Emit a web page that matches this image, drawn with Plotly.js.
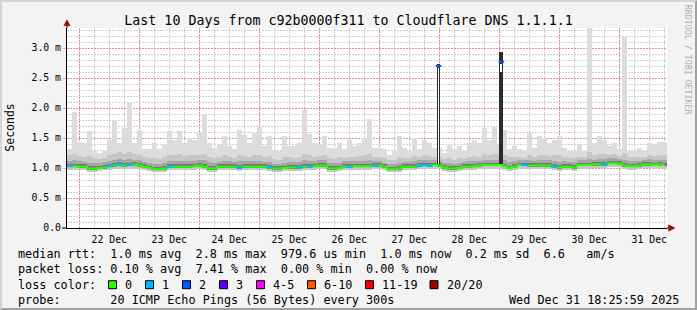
<!DOCTYPE html>
<html><head><meta charset="utf-8">
<script src="https://cdn.plot.ly/plotly-3.0.1.min.js"></script>
<style>
html,body{margin:0;padding:0;background:#f3f3f3;}
#frame{position:absolute;left:0;top:0;width:697px;height:310px;box-sizing:border-box;border-style:solid;border-width:2px;border-color:#d4d4d4 #a0a0a0 #a0a0a0 #d4d4d4;background:#f3f3f3;}
#chart{position:absolute;left:0;top:0;width:697px;height:310px;}
</style></head><body>
<div id="frame"></div><div id="chart"></div>
<script>
// ---- data (RTT in milliseconds; 2-hour bins starting 2025-12-21 19:05) ----
const START = Date.UTC(2025, 11, 21, 19, 5);
const HOUR = 3600000;
const BIN_H = 2;
const NBINS_DAYS = 10;

const medianRtt = [1.03,1.03,1.02,1.02,0.99,0.99,1.00,1.01,1.03,1.04,
 1.06,1.04,1.05,1.06,1.04,1.02,1.00,0.98,0.98,0.99,
 1.02,1.02,1.02,1.02,1.02,1.03,1.04,1.02,0.99,0.99,
 1.02,1.02,1.02,1.02,1.01,1.02,1.02,1.02,1.02,1.02,
 1.01,0.99,0.99,1.00,1.01,1.01,1.01,1.02,1.02,1.03,
 1.04,1.04,0.99,0.99,1.00,1.02,1.02,1.03,1.03,1.03,
 1.03,1.04,1.04,1.02,0.98,0.98,0.99,1.02,1.02,1.02,
 1.04,1.05,1.04,1.05,1.04,1.01,0.99,0.99,1.00,1.02,
 1.02,1.03,1.04,1.05,1.05,1.05,1.05,1.03,1.00,1.02,
 1.05,1.05,1.04,1.04,1.04,1.04,1.04,1.02,1.01,1.02,
 1.02,1.01,1.05,1.05,1.05,1.06,1.06,1.06,1.08,1.08,
 1.07,1.04,1.03,1.03,1.04,1.06,1.06,1.05,1.06,1.05];

const maxRtt = [1.32,1.94,1.44,1.42,1.61,1.28,1.25,1.28,1.47,1.78,
 1.42,1.67,2.09,1.42,1.64,1.31,1.31,1.42,1.31,1.39,
 1.61,1.47,1.61,1.42,1.50,1.47,1.58,1.89,1.42,1.33,
 1.39,1.53,1.36,1.31,1.64,1.55,1.42,1.58,1.69,1.36,
 1.53,1.28,1.28,1.53,1.36,1.36,1.42,1.97,1.56,1.42,
 1.39,1.53,1.33,1.33,1.42,1.31,1.47,1.36,1.42,1.50,
 1.81,1.33,1.33,1.31,1.22,1.28,1.53,1.33,1.28,1.50,
 1.31,1.47,1.42,1.33,1.33,1.25,1.39,1.31,1.36,1.28,
 1.42,1.47,1.42,1.67,1.47,1.69,1.40,1.64,1.31,1.36,
 1.31,1.28,1.58,1.33,1.53,1.50,1.42,1.47,1.53,1.33,
 1.28,1.28,1.39,1.28,3.40,1.42,1.53,1.47,1.36,1.42,
 1.31,3.18,1.28,1.28,1.33,1.28,1.42,1.39,1.44,1.44];

const p90Rtt = [1.22,1.24,1.20,1.18,1.20,1.16,1.15,1.17,1.21,1.24,
 1.26,1.24,1.27,1.23,1.22,1.18,1.16,1.17,1.15,1.18,
 1.22,1.21,1.23,1.20,1.22,1.21,1.22,1.24,1.19,1.16,
 1.18,1.21,1.19,1.17,1.22,1.20,1.19,1.21,1.22,1.18,
 1.20,1.15,1.14,1.19,1.18,1.17,1.19,1.24,1.21,1.19,
 1.20,1.22,1.16,1.15,1.18,1.17,1.19,1.18,1.20,1.21,
 1.23,1.19,1.18,1.16,1.13,1.14,1.19,1.17,1.16,1.20,
 1.19,1.21,1.20,1.19,1.18,1.15,1.17,1.14,1.16,1.15,
 1.18,1.20,1.19,1.23,1.21,1.24,1.22,1.22,1.18,1.19,
 1.18,1.17,1.22,1.19,1.21,1.21,1.20,1.21,1.22,1.18,
 1.16,1.17,1.19,1.18,1.26,1.22,1.23,1.24,1.22,1.23,
 1.20,1.25,1.19,1.18,1.19,1.18,1.21,1.20,1.21,1.22];

const p75Rtt = [1.12,1.13,1.11,1.10,1.09,1.08,1.08,1.10,1.12,1.14,
 1.15,1.14,1.15,1.14,1.13,1.10,1.08,1.07,1.07,1.08,
 1.12,1.11,1.11,1.11,1.12,1.12,1.13,1.13,1.10,1.08,
 1.10,1.11,1.11,1.10,1.12,1.11,1.11,1.11,1.12,1.10,
 1.10,1.07,1.07,1.09,1.10,1.10,1.10,1.13,1.12,1.12,
 1.13,1.13,1.08,1.08,1.09,1.11,1.11,1.12,1.12,1.12,
 1.13,1.12,1.11,1.09,1.06,1.06,1.08,1.10,1.10,1.11,
 1.13,1.14,1.13,1.13,1.12,1.09,1.08,1.07,1.08,1.10,
 1.11,1.12,1.12,1.14,1.14,1.14,1.14,1.13,1.10,1.11,
 1.13,1.13,1.13,1.12,1.13,1.13,1.13,1.11,1.10,1.11,
 1.10,1.10,1.13,1.13,1.15,1.14,1.15,1.15,1.16,1.16,
 1.15,1.14,1.12,1.11,1.12,1.14,1.15,1.14,1.14,1.14];

const p60Rtt = [1.07,1.07,1.06,1.06,1.03,1.03,1.04,1.05,1.07,1.08,
 1.10,1.08,1.09,1.10,1.08,1.06,1.04,1.02,1.02,1.03,
 1.06,1.06,1.06,1.06,1.06,1.07,1.08,1.06,1.03,1.03,
 1.06,1.06,1.06,1.06,1.05,1.06,1.06,1.06,1.06,1.06,
 1.05,1.03,1.03,1.04,1.05,1.05,1.05,1.06,1.06,1.07,
 1.08,1.08,1.03,1.03,1.04,1.06,1.06,1.07,1.07,1.07,
 1.07,1.08,1.08,1.06,1.02,1.02,1.03,1.06,1.06,1.06,
 1.08,1.09,1.08,1.09,1.08,1.05,1.03,1.03,1.04,1.06,
 1.06,1.07,1.08,1.09,1.09,1.09,1.09,1.07,1.04,1.06,
 1.09,1.09,1.08,1.08,1.08,1.08,1.08,1.06,1.05,1.06,
 1.06,1.05,1.09,1.09,1.09,1.10,1.10,1.10,1.12,1.12,
 1.11,1.08,1.07,1.07,1.08,1.10,1.10,1.09,1.10,1.09];

const lowRtt = [1.01,1.01,1.00,1.00,0.97,0.97,0.98,0.99,1.01,1.02,
 1.04,1.02,1.03,1.04,1.02,1.00,0.98,0.96,0.96,0.97,
 1.00,1.00,1.00,1.00,1.00,1.01,1.02,1.00,0.97,0.97,
 1.00,1.00,1.00,1.00,0.99,1.00,1.00,1.00,1.00,1.00,
 0.99,0.97,0.97,0.98,0.99,0.99,0.99,1.00,1.00,1.01,
 1.02,1.02,0.97,0.97,0.98,1.00,1.00,1.01,1.01,1.01,
 1.01,1.02,1.02,1.00,0.96,0.96,0.97,1.00,1.00,1.00,
 1.02,1.03,1.02,1.03,1.02,0.99,0.97,0.97,0.98,1.00,
 1.00,1.01,1.02,1.03,1.03,1.03,1.03,1.01,0.98,1.00,
 1.03,1.03,1.02,1.02,1.02,1.02,1.02,1.00,0.99,1.00,
 1.00,0.99,1.03,1.03,1.03,1.04,1.04,1.04,1.06,1.06,
 1.05,1.02,1.01,1.01,1.02,1.04,1.04,1.03,1.04,1.03];

const minRtt = [0.97,0.97,0.96,0.96,0.94,0.94,0.95,0.96,0.97,0.98,
 0.99,0.98,0.98,0.99,0.98,0.96,0.95,0.93,0.93,0.94,
 0.96,0.96,0.96,0.96,0.96,0.97,0.98,0.96,0.94,0.94,
 0.96,0.96,0.96,0.96,0.95,0.96,0.96,0.96,0.96,0.96,
 0.95,0.94,0.94,0.95,0.95,0.95,0.95,0.96,0.96,0.97,
 0.98,0.98,0.94,0.94,0.95,0.96,0.96,0.97,0.97,0.97,
 0.97,0.98,0.98,0.96,0.93,0.93,0.94,0.96,0.96,0.96,
 0.98,0.99,0.98,0.99,0.98,0.95,0.94,0.94,0.95,0.96,
 0.96,0.97,0.98,0.99,0.99,0.99,0.99,0.97,0.95,0.96,
 0.99,0.99,0.98,0.98,0.98,0.98,0.98,0.96,0.95,0.96,
 0.96,0.95,0.99,0.99,0.99,1.00,1.00,1.00,1.02,1.02,
 1.01,0.98,0.97,0.97,0.98,1.00,1.00,0.99,1.00,0.99];

const lossCount = [1,0,0,0,0,0,0,0,1,0,
 1,0,1,0,0,0,0,0,0,0,
 1,0,0,0,0,0,0,0,0,0,
 0,0,0,0,1,0,0,0,0,0,
 1,0,0,0,0,0,1,0,1,0,
 0,0,0,0,0,0,1,0,0,0,
 0,1,0,0,0,0,0,0,0,0,
 1,1,1,0,0,0,0,0,0,0,
 0,0,0,0,0,0,0,0,0,0,
 0,1,0,0,0,0,0,1,0,0,
 0,0,0,0,0,0,0,1,0,0,
 0,0,0,0,0,0,0,0,0,0];

// two short outliers where the whole ping burst was slow
const spikeTimes  = ['2025-12-27 23:40', '2025-12-29 00:50'];
const spikeBase   = [1.05, 1.05];
const spikeTop    = [2.74, 2.94];
const spikeMedian = [2.70, 2.77];
const spikeGapLo  = [1.07, 2.60];
const spikeGapHi  = [2.67, 2.74];
const spikeLoss   = [2, 2];

const yTickVals = [0, 0.5, 1.0, 1.5, 2.0, 2.5, 3.0];
const yTickText = ['0.0', '0.5 m', '1.0 m', '1.5 m', '2.0 m', '2.5 m', '3.0 m'];

const lossLabels = ['0', '1', '2', '3', '4-5', '6-10', '11-19', '20/20'];
const lossColors = ['#26ff00', '#00b8ff', '#0059ff', '#5e00ff', '#ff00ff', '#ff5500', '#ff0000', '#a00000'];

const statsLine1 = 'median rtt:  1.0 ms avg  2.8 ms max  979.6 us min  1.0 ms now  0.2 ms sd  6.6   am/s';
const statsLine2 = 'packet loss: 0.10 % avg  7.41 % max  0.00 % min  0.00 % now';
const probeText  = 'probe:       20 ICMP Echo Pings (56 Bytes) every 300s';
const stampText  = 'Wed Dec 31 18:25:59 2025';
const titleText  = 'Last 10 Days from c92b0000f311 to Cloudflare DNS 1.1.1.1';

// ---- build ----
const END = START + NBINS_DAYS * 24 * HOUR;
const times = medianRtt.map((_, i) => START + (i * BIN_H + BIN_H / 2) * HOUR);
function lossIdx(n){ if(n<=0)return 0; if(n===1)return 1; if(n===2)return 2; if(n===3)return 3; if(n<=5)return 4; if(n<=10)return 5; if(n<=19)return 6; return 7; }

function band(lo, hi, color){
  return {type:'bar', x:times, base:lo, y:hi.map((v,i)=>v-lo[i]), width:BIN_H*HOUR,
    marker:{color:color, line:{width:0}}, hoverinfo:'skip', showlegend:false};
}
const traces = [
  band(minRtt, maxRtt, '#dcdcdc'),
  band(minRtt, p90Rtt, '#c6c6c6'),
  band(lowRtt, p75Rtt, '#a6a6a6'),
  band(lowRtt, p60Rtt, '#787878'),
  {type:'bar', x:spikeTimes, base:spikeBase, y:spikeTop.map((v,i)=>v-spikeBase[i]), width:[1.3*HOUR, 1.55*HOUR],
    marker:{color:'#2b2b2b', line:{width:0}}, hoverinfo:'skip', showlegend:false},
  {type:'bar', x:spikeTimes, base:spikeGapLo, y:spikeGapHi.map((v,i)=>v-spikeGapLo[i]), width:[0.45*HOUR, 0.8*HOUR],
    marker:{color:'#ffffff', line:{width:0}}, hoverinfo:'skip', showlegend:false},
  {type:'scatter', mode:'lines', x:times, y:medianRtt, line:{color:lossColors[0], width:2, shape:'hvh'},
    hoverinfo:'skip', showlegend:false},
];
const lx=[], ly=[], lc=[];
lossCount.forEach((n,i)=>{ if(n>0){ lx.push(times[i]); ly.push(medianRtt[i]); lc.push(lossColors[lossIdx(n)]); } });
traces.push({type:'scatter', mode:'markers', x:lx, y:ly,
  marker:{symbol:'line-ew', size:5, line:{color:lc, width:2}}, hoverinfo:'skip', showlegend:false});
traces.push({type:'scatter', mode:'markers', x:spikeTimes, y:spikeMedian,
  marker:{symbol:'line-ew', size:4, line:{color:spikeLoss.map(n=>lossColors[lossIdx(n)]), width:2}}, hoverinfo:'skip', showlegend:false});
// empty trace that anchors the overlay axes carrying the major grid and labels
traces.push({type:'scatter', mode:'markers', x:[], y:[], xaxis:'x2', yaxis:'y2', hoverinfo:'skip', showlegend:false});

// pixel helpers for page furniture
const PL=67, PR=667, PT=28.3, PB=228.3;
const px = v => (v-PL)/(PR-PL);
const py = v => (PB-v)/(PB-PT);
const MONO = 'DejaVu Sans Mono';
const NB = s => s.replace(/ /g, '\u00a0');

const annotations = [
  {text:'Seconds', xref:'paper', yref:'paper', x:px(10), y:py(128), textangle:-90, showarrow:false,
    font:{family:MONO, size:11.5, color:'#000'}, xanchor:'center', yanchor:'middle'},
  {text:NB('RRDTOOL / TOBI OETIKER'), xref:'paper', yref:'paper', x:px(688), y:py(60), textangle:90, showarrow:false,
    font:{family:MONO, size:8.3, color:'#b0b0b0'}, xanchor:'center', yanchor:'middle'},
  {text:NB(statsLine1), xref:'paper', yref:'paper', x:px(16), y:py(254), showarrow:false, xanchor:'left', yanchor:'middle',
    font:{family:MONO, size:11.8, color:'#000'}},
  {text:NB(statsLine2), xref:'paper', yref:'paper', x:px(16), y:py(269.5), showarrow:false, xanchor:'left', yanchor:'middle',
    font:{family:MONO, size:11.8, color:'#000'}},
  {text:NB('loss color:'), xref:'paper', yref:'paper', x:px(16), y:py(285), showarrow:false, xanchor:'left', yanchor:'middle',
    font:{family:MONO, size:11.8, color:'#000'}},
  {text:NB(probeText), xref:'paper', yref:'paper', x:px(16), y:py(300.5), showarrow:false, xanchor:'left', yanchor:'middle',
    font:{family:MONO, size:11.8, color:'#000'}},
  {text:NB(stampText), xref:'paper', yref:'paper', x:px(681), y:py(300.5), showarrow:false, xanchor:'right', yanchor:'middle',
    font:{family:MONO, size:11.8, color:'#000'}},
];
const boxX = [108.5, 145.5, 182.5, 219.5, 256.5, 307.5, 365.5, 430];
const shapes = [];
lossLabels.forEach((lab, i) => {
  shapes.push({type:'rect', xref:'paper', yref:'paper', x0:px(boxX[i]), x1:px(boxX[i]+8), y0:py(289), y1:py(281),
    fillcolor:lossColors[i], line:{color:'#000', width:1}});
  annotations.push({text:lab, xref:'paper', yref:'paper', x:px(boxX[i]+14.5), y:py(285), showarrow:false,
    xanchor:'left', yanchor:'middle', font:{family:MONO, size:11.8, color:'#000'}});
});
// axis arrows
shapes.push({type:'line', xref:'paper', yref:'paper', x0:px(67), x1:px(67), y0:py(PT), y1:py(25.5), line:{color:'#000', width:1}});
shapes.push({type:'path', xref:'paper', yref:'paper', path:`M ${px(67)} ${py(20)} L ${px(63.8)} ${py(26)} L ${px(70.2)} ${py(26)} Z`,
  fillcolor:'#8b1010', line:{color:'#8b1010', width:0.5}});
shapes.push({type:'line', xref:'paper', yref:'paper', x0:px(PR), x1:px(668.5), y0:0, y1:0, line:{color:'#000', width:1}});
shapes.push({type:'path', xref:'paper', yref:'paper', path:`M ${px(675)} ${py(PB)} L ${px(668.5)} ${py(PB-3.2)} L ${px(668.5)} ${py(PB+3.2)} Z`,
  fillcolor:'#8b1010', line:{color:'#8b1010', width:0.5}});
shapes.push({type:'line', xref:'paper', yref:'paper', x0:px(62), x1:px(67), y0:0, y1:0, line:{color:'#000', width:1}});

const MAJ = 'rgba(235,90,90,0.55)';
const MIN = '#d0d0d0';
const TF = {family:MONO, size:9.8, color:'#000'};
const layout = {
  width:697, height:310,
  margin:{l:PL, r:697-PR, t:PT, b:310-PB, pad:0},
  paper_bgcolor:'rgba(0,0,0,0)', plot_bgcolor:'#ffffff',
  barmode:'overlay', bargap:0, showlegend:false,
  title:{text:titleText, xref:'container', x:0.5, xanchor:'center', yref:'container', y:1-20/310, yanchor:'middle',
    font:{family:MONO, size:13.3, color:'#000'}},
  // fine 6-hour / 0.1 ms grid on the data axes
  xaxis:{type:'date', range:[START, END], tickmode:'linear', tick0:'2025-12-22', dtick:6*HOUR,
    showgrid:true, gridcolor:MIN, griddash:'2px,1px', gridwidth:1, showticklabels:false, ticks:'',
    showline:true, linecolor:'#000', linewidth:1, zeroline:false, fixedrange:true},
  yaxis:{range:[0, 200/60], tickmode:'linear', tick0:0, dtick:0.1,
    showgrid:true, gridcolor:MIN, griddash:'2px,1px', gridwidth:1, showticklabels:false, ticks:'',
    showline:true, linecolor:'#000', linewidth:1, zeroline:false, fixedrange:true},
  // day / 0.5 ms grid with labels
  xaxis2:{type:'date', overlaying:'x', anchor:'y2', side:'bottom', range:[START, END], tickmode:'linear', tick0:'2025-12-22', dtick:24*HOUR,
    tickformat:'%d %b', ticklabelmode:'period',
    showgrid:true, gridcolor:MAJ, griddash:'2px,1px', gridwidth:1, showline:false,
    ticks:'outside', ticklen:2, tickcolor:MAJ, tickfont:TF, zeroline:false, fixedrange:true},
  yaxis2:{overlaying:'y', anchor:'x2', side:'left', range:[0, 200/60], tickmode:'array', tickvals:yTickVals, ticktext:yTickText,
    showgrid:true, gridcolor:MAJ, griddash:'2px,1px', gridwidth:1, showline:false,
    ticks:'outside', ticklen:3, tickcolor:MAJ, tickfont:TF, zeroline:false, fixedrange:true},
  annotations:annotations, shapes:shapes,
};
Plotly.newPlot('chart', traces, layout, {staticPlot:true, displayModeBar:false});
</script></body></html>
